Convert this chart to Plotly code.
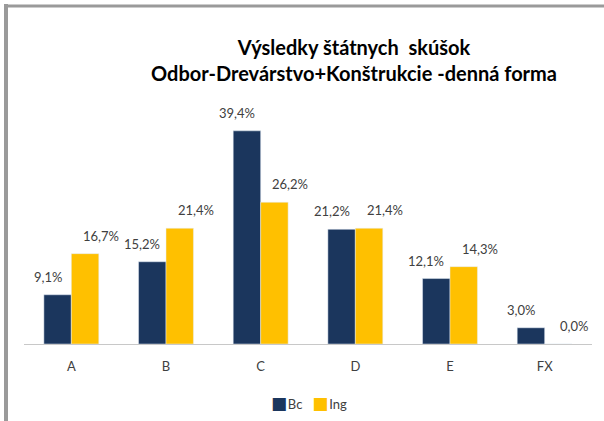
import plotly.graph_objects as go

categories = ["A", "B", "C", "D", "E", "FX"]
bc_values = [9.1, 15.2, 39.4, 21.2, 12.1, 3.0]
ing_values = [16.7, 21.4, 26.2, 21.4, 14.3, 0.0]
series_names = ["Bc", "Ing"]
series_colors = ["#1b365d", "#ffc000"]
title_lines = ["Výsledky štátnych  skúšok", "Odbor-Drevárstvo+Konštrukcie -denná forma"]

W, H = 604, 421
L, R, T, B = 24, 12, 100, 77
pw, ph = W - L - R, H - T - B
BARGAP = 0.42

def px_x(x):
    return (x - L) / pw

def px_y(y):
    return (H - B - y) / ph

font_family = "Lato, 'Open Sans', sans-serif"

# half-width of a single bar in px (bars of the group sit at +/- this offset)
bar_half = (1 - BARGAP) * pw / len(categories) / 4

series = [(series_names[0], bc_values, series_colors[0], -bar_half - 10),
          (series_names[1], ing_values, series_colors[1], bar_half + 16)]

fig = go.Figure()
annotations = []
for name, vals, col, xs in series:
    fig.add_trace(go.Bar(x=categories, y=vals, name=name, marker_color=col,
                         showlegend=False))
    for c, v in zip(categories, vals):
        annotations.append(dict(x=c, y=v, xref="x", yref="y", showarrow=False,
                                text=f"{v:.1f}%".replace(".", ","),
                                xshift=xs, yshift=18, yanchor="middle",
                                font=dict(color="#404040", size=13, family=font_family)))

# compact legend (square markers close to their labels, as in the reference)
legend_text = "   ".join(
    f"<span style='color:{col};font-family:DejaVu Sans;font-size:17px'>■</span>"
    f"<span style='font-size:3px'> </span>{name}"
    for name, col in zip(series_names, series_colors))
annotations.append(dict(x=px_x(309), y=px_y(403), xref="paper", yref="paper",
                        showarrow=False, text=legend_text, xanchor="center",
                        yanchor="middle",
                        font=dict(color="#404040", size=13, family=font_family)))

fig.update_layout(
    width=W, height=H,
    margin=dict(l=L, r=R, t=T, b=B, autoexpand=False),
    paper_bgcolor="white", plot_bgcolor="white",
    barmode="group", bargap=BARGAP, bargroupgap=0,
    font=dict(family=font_family, color="#404040", size=13),
    title=dict(text="<b>" + title_lines[0] + "</b><br><b>" + title_lines[1] + "</b>",
               x=354 / W, xanchor="center",
               y=1 - 55 / H, yanchor="middle",
               font=dict(size=20, color="#000000", family=font_family)),
    xaxis=dict(showline=True, linecolor="#c8c8c8", linewidth=1, ticks="",
               ticklabelstandoff=10,
               tickfont=dict(size=13, color="#404040"), showgrid=False),
    yaxis=dict(range=[0, 45.1], visible=False, showgrid=False),
    showlegend=False,
    annotations=annotations,
    shapes=[
        dict(type="line", xref="paper", yref="paper", layer="above",
             x0=px_x(4), x1=px_x(W + 20), y0=px_y(6), y1=px_y(6),
             line=dict(color="#9a9a9a", width=3)),
        dict(type="line", xref="paper", yref="paper", layer="above",
             x0=px_x(6), x1=px_x(6), y0=px_y(4), y1=px_y(H),
             line=dict(color="#9a9a9a", width=4)),
    ],
)

fig.write_html("out.html", config={"displayModeBar": False},
               post_script="document.body.style.margin='0';document.body.style.padding='0';")
